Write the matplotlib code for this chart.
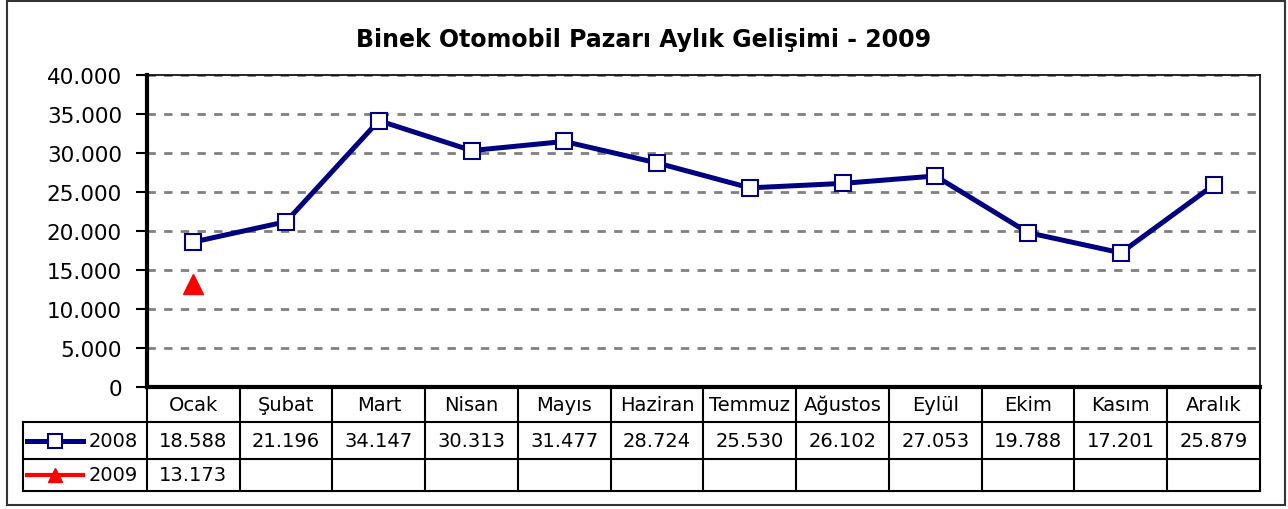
import matplotlib
matplotlib.use('Agg')
import matplotlib.pyplot as plt
from matplotlib.patches import Rectangle
from matplotlib.ticker import FuncFormatter
import numpy as np

# Veriler
aylar = ['Ocak', 'Şubat', 'Mart', 'Nisan', 'Mayıs', 'Haziran', 'Temmuz',
         'Ağustos', 'Eylül', 'Ekim', 'Kasım', 'Aralık']
satis_2008 = [18588, 21196, 34147, 30313, 31477, 28724, 25530, 26102,
              27053, 19788, 17201, 25879]
satis_2009 = [13173]
baslik = 'Binek Otomobil Pazarı Aylık Gelişimi - 2009'

W, H = 1288, 510
fig = plt.figure(figsize=(W / 100, H / 100), dpi=100)
plt.rcParams['font.family'] = ['DejaVu Sans']

# cerceve
fig.patches.append(Rectangle((7 / W, 4 / H), 1278 / W, 504 / H, transform=fig.transFigure,
                             fill=False, edgecolor='#333333', linewidth=1.5))

ax = fig.add_axes([147 / W, (H - 388) / H, 1113 / W, 312 / H])
x = np.arange(len(aylar))

ax.plot(x, satis_2008, color='#000080', linewidth=3.6, marker='s', markersize=11,
        markerfacecolor='white', markeredgecolor='#000080', markeredgewidth=1.5, zorder=3)
ax.plot(x[:len(satis_2009)], satis_2009, color='red', linewidth=3.6, marker='^',
        markersize=15, markerfacecolor='red', markeredgecolor='red', zorder=3)

ax.set_xlim(-0.5, len(aylar) - 0.5)
ax.set_ylim(0, 40000)
ax.set_yticks(np.arange(0, 40001, 5000))
ax.yaxis.set_major_formatter(FuncFormatter(lambda v, p: f'{int(v):,}'.replace(',', '.')))
ax.tick_params(axis='y', length=8, width=1.5, pad=10, labelsize=15.5)
ax.set_xticks([])
ax.grid(axis='y', color='#808080', linestyle=(0, (3, 3)), linewidth=2)
ax.set_axisbelow(True)
for s in ['left', 'bottom']:
    ax.spines[s].set_linewidth(3)
for s in ['top', 'right']:
    ax.spines[s].set_linewidth(1.2)

fig.text(0.5, (H - 40) / H, baslik, ha='center', va='center', fontsize=17, fontweight='bold')

# Veri tablosu
tr = ax.get_xaxis_transform()
sol = -0.5 - 124 / 92.75
r0, r1, r2, r3 = 0, -35 / 312, -72 / 312, -104 / 312
kw = dict(color='black', linewidth=1.5, transform=tr, clip_on=False)
for xb in np.arange(-0.5, len(aylar), 1.0):
    ax.plot([xb, xb], [r0, r3], **kw)
ax.plot([sol, sol], [r1, r3], **kw)
for yb in [r1, r2, r3]:
    ax.plot([sol, len(aylar) - 0.5], [yb, yb], **kw)

for i, ay in enumerate(aylar):
    ax.text(i, (r0 + r1) / 2, ay, transform=tr, ha='center', va='center', fontsize=14)
for i, v in enumerate(satis_2008):
    ax.text(i, (r1 + r2) / 2, f'{v:,}'.replace(',', '.'), transform=tr,
            ha='center', va='center', fontsize=14)
for i, v in enumerate(satis_2009):
    ax.text(i, (r2 + r3) / 2, f'{v:,}'.replace(',', '.'), transform=tr,
            ha='center', va='center', fontsize=14)

# legend anahtarlari
lx0, lx1 = -0.5 - 120 / 92.75, -0.5 - 64 / 92.75
ax.plot([lx0, lx1], [(r1 + r2) / 2] * 2, color='#000080', linewidth=3.6, transform=tr,
        clip_on=False)
ax.plot([(lx0 + lx1) / 2], [(r1 + r2) / 2], marker='s', markersize=10, markerfacecolor='white',
        markeredgecolor='#000080', markeredgewidth=1.5, transform=tr, clip_on=False)
ax.plot([lx0, lx1], [(r2 + r3) / 2] * 2, color='red', linewidth=3, transform=tr, clip_on=False)
ax.plot([(lx0 + lx1) / 2], [(r2 + r3) / 2], marker='^', markersize=10, color='red',
        transform=tr, clip_on=False)
ax.text(-0.5 - 9 / 92.75, (r1 + r2) / 2, '2008', transform=tr, ha='right', va='center',
        fontsize=14)
ax.text(-0.5 - 9 / 92.75, (r2 + r3) / 2, '2009', transform=tr, ha='right', va='center',
        fontsize=14)

fig.savefig('out.png', dpi=100)
